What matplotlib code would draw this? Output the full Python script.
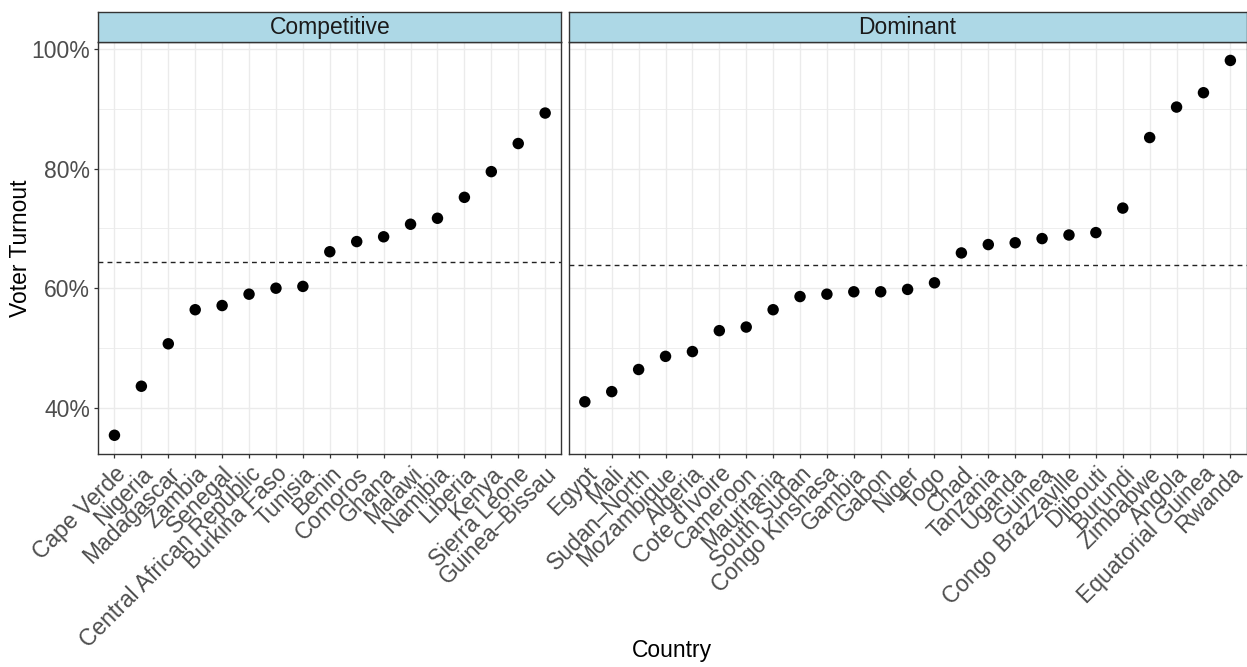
import matplotlib
matplotlib.use("Agg")
import matplotlib.pyplot as plt
from matplotlib.ticker import PercentFormatter, MultipleLocator

plt.rcParams["font.family"] = ["Liberation Sans", "DejaVu Sans"]

# turnout (%) by country, sorted within each regime type
competitive_countries = [
    "Cape Verde", "Nigeria", "Madagascar", "Zambia", "Senegal",
    "Central African Republic", "Burkina Faso", "Tunisia", "Benin", "Comoros",
    "Ghana", "Malawi", "Namibia", "Liberia", "Kenya", "Sierra Leone", "Guinea\u2013Bissau",
]
competitive_turnout = [
    35.4, 43.6, 50.7, 56.4, 57.1, 59.0, 60.0, 60.3, 66.1, 67.8,
    68.6, 70.7, 71.7, 75.2, 79.5, 84.2, 89.3,
]

dominant_countries = [
    "Egypt", "Mali", "Sudan\u2013North", "Mozambique", "Algeria", "Cote d'Ivoire",
    "Cameroon", "Mauritania", "South Sudan", "Congo Kinshasa", "Gambia", "Gabon",
    "Niger", "Togo", "Chad", "Tanzania", "Uganda", "Guinea", "Congo Brazzaville",
    "Djibouti", "Burundi", "Zimbabwe", "Angola", "Equatorial Guinea", "Rwanda",
]
dominant_turnout = [
    41.0, 42.7, 46.4, 48.6, 49.4, 52.9, 53.5, 56.4, 58.6, 59.0, 59.4, 59.4,
    59.8, 60.9, 65.9, 67.3, 67.6, 68.3, 68.9, 69.3, 73.4, 85.2, 90.3, 92.7, 98.1,
]

facets = [
    ("Competitive", competitive_countries, competitive_turnout),
    ("Dominant", dominant_countries, dominant_turnout),
]

W, H = 1247, 667
GRID = "#EBEBEB"
BORDER = "#333333"
TICKTXT = "#4D4D4D"
FS = 16.5

fig = plt.figure(figsize=(W / 100, H / 100), dpi=100)

# panel pixel boxes (left, right), shared top/bottom
panel_x = [(98.3, 561.3), (568.7, 1246.5)]
top, bottom = 41.7, 454.0
strip_top = 11.7

all_vals = competitive_turnout + dominant_turnout
lo, hi = min(all_vals), max(all_vals)
pad = (hi - lo) * 0.05
ylim = (lo - pad, hi + pad)

for i, ((name, countries, turnout), (x0, x1)) in enumerate(zip(facets, panel_x)):
    ax = fig.add_axes([x0 / W, (H - bottom) / H, (x1 - x0) / W, (bottom - top) / H])
    xs = list(range(len(countries)))

    ax.set_xlim(-0.6, len(countries) - 0.4)
    ax.set_ylim(*ylim)
    ax.yaxis.set_major_locator(MultipleLocator(20))
    ax.yaxis.set_minor_locator(MultipleLocator(10))
    ax.yaxis.set_major_formatter(PercentFormatter(xmax=100, decimals=0))
    ax.grid(True, which="major", color=GRID, lw=1.0, zorder=0)
    ax.grid(True, which="minor", axis="y", color=GRID, lw=0.6, zorder=0)
    ax.set_axisbelow(True)

    ax.scatter(xs, turnout, s=68, color="black", edgecolors="none", zorder=3)
    mean_val = sum(turnout) / len(turnout)
    ax.axhline(mean_val, color="#222222", lw=1.0, dashes=(3.5, 3), zorder=2)

    ax.set_xticks(xs)
    ax.set_xticklabels(countries, rotation=45, ha="right", va="top",
                       rotation_mode="anchor", fontsize=FS, color=TICKTXT)
    ax.tick_params(axis="both", which="major", length=3, width=0.9, color=BORDER, pad=3)
    ax.tick_params(axis="y", which="minor", length=0)
    if i == 0:
        ax.tick_params(axis="y", labelsize=FS, labelcolor=TICKTXT)
    else:
        ax.tick_params(axis="y", which="both", left=False, labelleft=False)

    for sp in ax.spines.values():
        sp.set_color(BORDER)
        sp.set_linewidth(1.0)

    # facet strip
    sax = fig.add_axes([x0 / W, (H - top) / H, (x1 - x0) / W, (top - strip_top) / H])
    sax.set_facecolor("#ADD8E6")
    sax.set_xticks([])
    sax.set_yticks([])
    for sp in sax.spines.values():
        sp.set_color(BORDER)
        sp.set_linewidth(1.0)
    sax.text(0.5, 0.47, name, ha="center", va="center", fontsize=FS, color="#1A1A1A",
             transform=sax.transAxes)

fig.text((98.3 + 1246.5) / 2 / W, 1 - 650 / H, "Country", ha="center", va="center",
         fontsize=FS, color="black")
fig.text(21 / W, 1 - 248 / H, "Voter Turnout", ha="center", va="center",
         rotation=90, fontsize=FS, color="black")

fig.savefig("out.png", dpi=100)
